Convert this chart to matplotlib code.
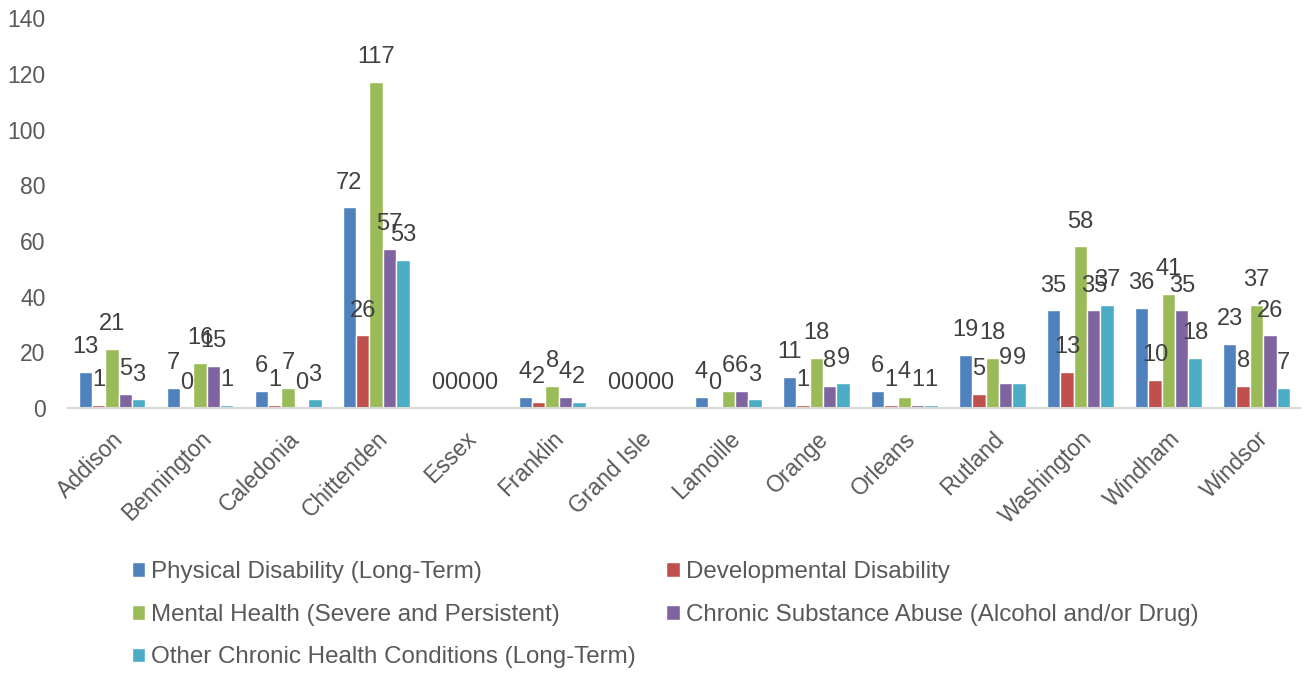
import numpy as np
import matplotlib.pyplot as plt

plt.rcParams['font.family'] = ['Liberation Sans', 'DejaVu Sans']

# counties
counties = ['Addison', 'Bennington', 'Caledonia', 'Chittenden', 'Essex', 'Franklin',
            'Grand Isle', 'Lamoille', 'Orange', 'Orleans', 'Rutland', 'Washington',
            'Windham', 'Windsor']

# series values
physical = [13, 7, 6, 72, 0, 4, 0, 4, 11, 6, 19, 35, 36, 23]
developmental = [1, 0, 1, 26, 0, 2, 0, 0, 1, 1, 5, 13, 10, 8]
mental = [21, 16, 7, 117, 0, 8, 0, 6, 18, 4, 18, 58, 41, 37]
substance = [5, 15, 0, 57, 0, 4, 0, 6, 8, 1, 9, 35, 35, 26]
other = [3, 1, 3, 53, 0, 2, 0, 3, 9, 1, 9, 37, 18, 7]

series_names = ['Physical Disability (Long-Term)', 'Developmental Disability',
                'Mental Health (Severe and Persistent)',
                'Chronic Substance Abuse (Alcohol and/or Drug)',
                'Other Chronic Health Conditions (Long-Term)']
colors = ['#4F81BD', '#C0504D', '#9BBB59', '#8064A2', '#4BACC6']

fig = plt.figure(figsize=(13.07, 6.73), dpi=100)
ax = fig.add_axes([0.052, 0.394, 0.943, 0.579])

x = np.arange(len(counties))
w = 0.152
all_series = [physical, developmental, mental, substance, other]
handles = []
for i, vals in enumerate(all_series):
    pos = x + (i - 2) * w
    bars = ax.bar(pos, vals, width=w, color=colors[i], edgecolor='white',
                  linewidth=1.0, label=series_names[i])
    handles.append(bars)
    for p, v in zip(pos, vals):
        ax.annotate(str(v), (p, v), xytext=(0, 10), textcoords='offset points',
                    ha='center', va='bottom', fontsize=17, color='#404040')

ax.set_xlim(-0.5, len(counties) - 0.5)
ax.set_ylim(0, 140)
ax.set_yticks(range(0, 141, 20))
ax.set_xticks(x)
ax.set_xticklabels(counties, rotation=45, ha='right', rotation_mode='anchor')
ax.tick_params(axis='both', length=0, labelsize=16.5, colors='#595959')
ax.tick_params(axis='y', pad=16)
ax.tick_params(axis='x', pad=14)
for s in ['top', 'right', 'left']:
    ax.spines[s].set_visible(False)
ax.spines['bottom'].set_color('#D9D9D9')
ax.spines['bottom'].set_linewidth(1.5)

# row-wise legend order
order = [0, 2, 4, 1, 3]
fig.legend([handles[k] for k in order], [series_names[k] for k in order],
           loc='upper left', bbox_to_anchor=(0.101, 0.166), ncol=2, frameon=False,
           fontsize=17.4, handlelength=0.55, handleheight=0.55, handletextpad=0.25,
           columnspacing=1.25, labelspacing=0.85, labelcolor='#595959',
           borderaxespad=0, borderpad=0)

fig.savefig('out.png', dpi=100)
